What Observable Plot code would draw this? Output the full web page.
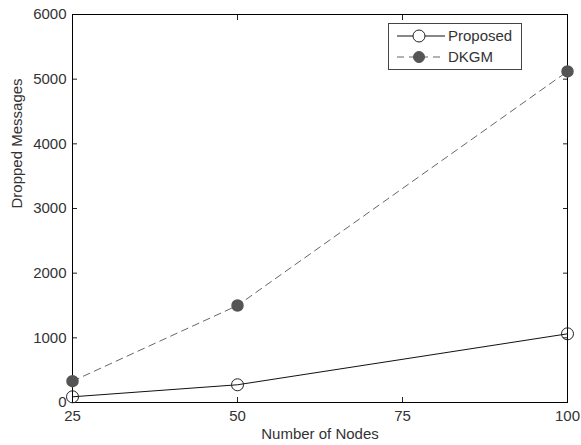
<!DOCTYPE html>
<html><head><meta charset="utf-8">
<script src="https://cdn.jsdelivr.net/npm/d3@7"></script>
<script src="https://cdn.jsdelivr.net/npm/@observablehq/plot@0.6"></script>
<style>
body{margin:0;background:#fff}
#wrap{position:relative;width:581px;height:445px}
#legend{position:absolute;left:388px;top:23px}
</style>
</head><body><div id="wrap"></div>
<script>
const nodes = [25, 50, 100];
const proposed = [88, 274, 1062];
const dkgm = [330, 1500, 5120];
const xTicks = [25, 50, 75, 100];
const yTicks = [0, 1000, 2000, 3000, 4000, 5000, 6000];
const seriesNames = ["Proposed", "DKGM"];
const xLabel = "Number of Nodes";
const yLabel = "Dropped Messages";

const rowsP = nodes.map((n, i) => ({x: n, y: proposed[i]}));
const rowsD = nodes.map((n, i) => ({x: n, y: dkgm[i]}));
const font = "Arial, 'Liberation Sans', Helvetica, sans-serif";
const blank = () => "";
const fmt = d3.format("d");

const chart = Plot.plot({
  width: 581, height: 445,
  marginLeft: 72, marginRight: 14, marginTop: 14, marginBottom: 43,
  style: {fontFamily: font, fontSize: "15px", color: "#222", background: "#fff"},
  x: {domain: [25, 100]},
  y: {domain: [0, 6000]},
  marks: [
    Plot.axisX({anchor: "bottom", ticks: xTicks, tickSize: 0, tickPadding: 8, tickFormat: fmt, fill: "#333", fontSize: 15, label: null}),
    Plot.axisX({anchor: "bottom", ticks: xTicks, tickSize: -5, tickFormat: blank, label: null}),
    Plot.axisX({anchor: "top", ticks: xTicks, tickSize: -5, tickFormat: blank, label: null}),
    Plot.axisY({anchor: "left", ticks: yTicks, tickSize: 0, tickPadding: 6, tickFormat: fmt, fill: "#333", fontSize: 15, label: null}),
    Plot.axisY({anchor: "left", ticks: yTicks, tickSize: -5, tickFormat: blank, label: null}),
    Plot.axisY({anchor: "right", ticks: yTicks, tickSize: -5, tickFormat: blank, label: null}),
    Plot.text([xLabel], {text: d => d, frameAnchor: "bottom", dy: 32, lineAnchor: "middle", fill: "#333", fontSize: 15}),
    Plot.text([yLabel], {text: d => d, frameAnchor: "left", dx: -55, rotate: -90, lineAnchor: "middle", fill: "#333", fontSize: 15}),
    Plot.frame({stroke: "#000"}),
    Plot.line(rowsD, {x: "x", y: "y", stroke: "#666", strokeWidth: 1, strokeDasharray: "7,5"}),
    Plot.dot(rowsD, {x: "x", y: "y", r: 5.5, fill: "#555", stroke: "#555"}),
    Plot.line(rowsP, {x: "x", y: "y", stroke: "#111", strokeWidth: 1}),
    Plot.dot(rowsP, {x: "x", y: "y", r: 6, fill: "none", stroke: "#222", strokeWidth: 1})
  ]
});
const wrap = document.getElementById("wrap");
wrap.appendChild(chart);

// legend
const styles = [
  {stroke: "#111", dash: null, fill: "none", mstroke: "#222"},
  {stroke: "#666", dash: "7,5", fill: "#555", mstroke: "#555"}
];
const lg = d3.select(wrap).append("svg").attr("id", "legend")
  .attr("width", 134).attr("height", 47)
  .style("font-family", font).style("font-size", "15px");
lg.append("rect").attr("x", 0.5).attr("y", 0.5).attr("width", 133).attr("height", 46)
  .attr("fill", "#fff").attr("stroke", "#444");
seriesNames.forEach((name, i) => {
  const cy = 13 + i * 21;
  const s = styles[i];
  lg.append("line").attr("x1", 9).attr("x2", 57).attr("y1", cy).attr("y2", cy)
    .attr("stroke", s.stroke).attr("stroke-dasharray", s.dash);
  lg.append("circle").attr("cx", 31).attr("cy", cy).attr("r", i ? 5.5 : 6)
    .attr("fill", i ? s.fill : "#fff").attr("stroke", s.mstroke);
  lg.append("text").attr("x", 60).attr("y", cy).attr("dy", "0.36em")
    .attr("fill", "#333").text(name);
});
</script>
</body></html>
